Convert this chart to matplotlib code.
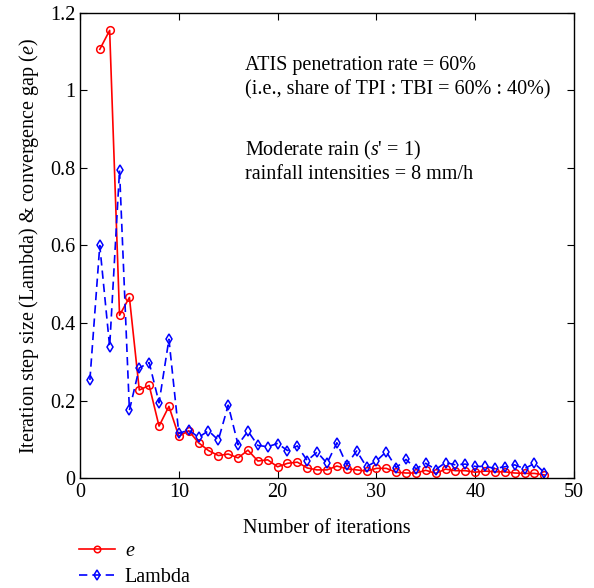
import matplotlib
matplotlib.use("Agg")
import matplotlib.pyplot as plt

plt.rcParams['font.family'] = ['Liberation Serif', 'DejaVu Serif']
plt.rcParams['mathtext.fontset'] = 'custom'
plt.rcParams['mathtext.it'] = 'Liberation Serif:italic'
plt.rcParams['mathtext.rm'] = 'Liberation Serif'

# convergence gap e, iterations 2..47
e_iter = list(range(2, 48))
e_vals = [1.106, 1.155, 0.420, 0.466, 0.227, 0.239, 0.134, 0.185, 0.108, 0.122,
          0.091, 0.071, 0.058, 0.062, 0.052, 0.072, 0.044, 0.047, 0.029, 0.038,
          0.041, 0.026, 0.021, 0.021, 0.031, 0.024, 0.021, 0.018, 0.025, 0.025,
          0.015, 0.013, 0.013, 0.020, 0.012, 0.023, 0.019, 0.019, 0.015, 0.018,
          0.016, 0.016, 0.013, 0.012, 0.012, 0.008]

# step size Lambda, iterations 1..47
lam_iter = list(range(1, 48))
lam_vals = [0.253, 0.600, 0.339, 0.794, 0.175, 0.284, 0.298, 0.194, 0.358, 0.115,
            0.124, 0.105, 0.122, 0.098, 0.188, 0.086, 0.121, 0.084, 0.081, 0.089,
            0.071, 0.083, 0.045, 0.067, 0.038, 0.091, 0.034, 0.070, 0.029, 0.044,
            0.068, 0.027, 0.048, 0.024, 0.038, 0.022, 0.040, 0.034, 0.036, 0.030,
            0.030, 0.025, 0.029, 0.034, 0.024, 0.038, 0.014]

fs = 14.5

fig = plt.figure(figsize=(5.94, 5.88), dpi=100)
ax = fig.add_axes([0.1347, 0.187, 0.8316, 0.791])

ax.plot(e_iter, e_vals, '-o', color='red', lw=1.2, ms=5.5, mfc='none', mew=1.1, label='$e$')
ax.plot(lam_iter, lam_vals, '--d', color='blue', lw=1.2, ms=5.5, mfc='none', mew=1.1,
        dashes=(5, 3), label='Lambda')

ax.set_xlim(0, 50)
ax.set_ylim(0, 1.2)
ax.set_xticks([0, 10, 20, 30, 40, 50])
ax.set_yticks([0, 0.2, 0.4, 0.6, 0.8, 1.0, 1.2])
ax.set_yticklabels(['0', '0.2', '0.4', '0.6', '0.8', '1', '1.2'])
ax.tick_params(direction='in', top=True, right=True, length=5, labelsize=fs)
for s in ax.spines.values():
    s.set_linewidth(1.0)

ax.set_xlabel('Number of iterations', fontsize=fs, labelpad=12)
ax.set_ylabel('Iteration step size (Lambda) & convergence gap ($e$)', fontsize=fs, labelpad=6)

ax.text(0.334, 0.888, 'ATIS penetration rate = 60%', transform=ax.transAxes, fontsize=fs, va='center')
ax.text(0.334, 0.834, '(i.e., share of TPI : TBI = 60% : 40%)', transform=ax.transAxes, fontsize=fs, va='center')
ax.text(0.334, 0.705, "Moderate rain ($s$' = 1)", transform=ax.transAxes, fontsize=fs, va='center')
ax.text(0.334, 0.652, 'rainfall intensities = 8 mm/h', transform=ax.transAxes, fontsize=fs, va='center')

fig.legend(loc='lower left', bbox_to_anchor=(0.103, -0.029), frameon=False, fontsize=fs,
           handlelength=1.75, handletextpad=0.5, labelspacing=0.35, markerscale=0.85)

fig.savefig('out.png', dpi=100)
